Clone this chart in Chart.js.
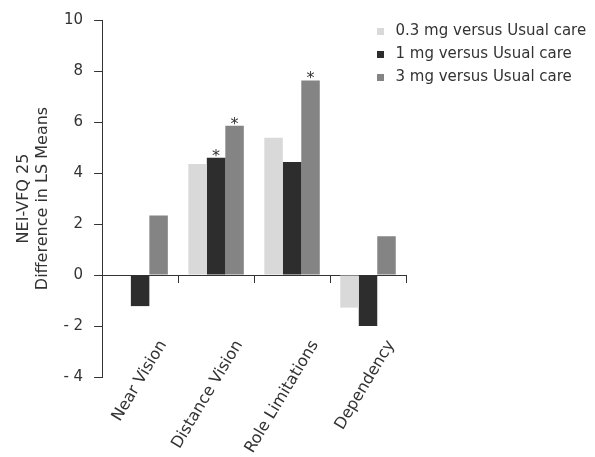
<!DOCTYPE html>
<html>
<head>
<meta charset="utf-8">
<script src="https://cdn.jsdelivr.net/npm/chart.js@4/dist/chart.umd.min.js"></script>
<style>
    html, body { margin: 0; padding: 0; background: #fff; }
    #wrap { width: 595px; height: 457px; }
</style>
</head>
<body>
<div id="wrap"><canvas id="nei"></canvas></div>
<script>
const categories = ["Near Vision", "Distance Vision", "Role Limitations", "Dependency"];
const seriesNames = ["0.3 mg versus Usual care", "1 mg versus Usual care", "3 mg versus Usual care"];
const dose03 = [0, 4.35, 5.38, -1.28];
const dose1 = [-1.22, 4.6, 4.43, -2.0];
const dose3 = [2.33, 5.85, 7.63, 1.52];
// * = significant difference, drawn above the bar
const sig03 = [false, false, false, false];
const sig1 = [false, true, false, false];
const sig3 = [false, true, true, false];
const yTicks = [-4, -2, 0, 2, 4, 6, 8, 10];

const FONT = "'DejaVu Sans', sans-serif";
const INK = "#333";

const asteriskPlugin = {
    id: "asterisks",
    afterDatasetsDraw(chart) {
        const ctx = chart.ctx;
        ctx.save();
        ctx.fillStyle = INK;
        ctx.font = "16px " + FONT;
        ctx.textAlign = "center";
        ctx.textBaseline = "alphabetic";
        chart.data.datasets.forEach((ds, i) => {
            const meta = chart.getDatasetMeta(i);
            ds.significant.forEach((s, j) => {
                if (!s) return;
                const bar = meta.data[j];
                ctx.fillText("*", bar.x, bar.y + 3);
            });
        });
        ctx.restore();
    },
};

// legend sits in the upper right, partly over the plot area
const legendPlacer = {
    id: "legendPlacer",
    afterLayout(chart) {
        const lg = chart.legend;
        const w = lg.width, h = lg.height;
        lg.left = 365;
        lg.top = 16;
        lg.right = lg.left + w;
        lg.bottom = lg.top + h;
    },
};

const ctx = document.getElementById("nei").getContext("2d");
new Chart(ctx, {
    type: "bar",
    data: {
        labels: categories,
        datasets: [
            { label: seriesNames[0], data: dose03, significant: sig03, backgroundColor: "#d9d9d9" },
            { label: seriesNames[1], data: dose1, significant: sig1, backgroundColor: "#2d2d2d" },
            { label: seriesNames[2], data: dose3, significant: sig3, backgroundColor: "#848484" },
        ],
    },
    options: {
        responsive: true,
        maintainAspectRatio: false,
        animation: false,
        categoryPercentage: 0.73,
        barPercentage: 1.0,
        layout: { padding: { left: 12, top: 17, right: 189, bottom: 80 } },
        plugins: {
            tooltip: { enabled: false },
            legend: {
                position: "chartArea",
                align: "start",
                labels: {
                    font: { family: FONT, size: 15 },
                    color: INK,
                    usePointStyle: true,
                    pointStyle: "rect",
                    boxHeight: 7,
                    padding: 8,
                },
            },
        },
        scales: {
            x: {
                position: { y: 0 },
                offset: true,
                grid: {
                    offset: true,
                    drawOnChartArea: false,
                    drawTicks: true,
                    tickLength: 7,
                    color: INK,
                },
                border: { display: true, color: INK, width: 1 },
                ticks: {
                    autoSkip: false,
                    minRotation: 59,
                    maxRotation: 59,
                    labelOffset: 23,
                    padding: 55,
                    color: INK,
                    font: { family: FONT, size: 16 },
                },
            },
            y: {
                min: -4,
                max: 10,
                afterBuildTicks(scale) {
                    scale.ticks = yTicks.map((v) => ({ value: v }));
                },
                grid: {
                    drawOnChartArea: false,
                    drawTicks: true,
                    tickLength: 8,
                    color: INK,
                },
                border: { display: true, color: INK, width: 1 },
                ticks: {
                    padding: 11,
                    color: INK,
                    font: { family: FONT, size: 15 },
                    callback: (v) => (v < 0 ? "- " + Math.abs(v) : String(v)),
                },
                title: {
                    display: true,
                    text: ["NEI-VFQ 25", "Difference in LS Means"],
                    color: INK,
                    font: { family: FONT, size: 16 },
                    padding: { top: 2, bottom: 0 },
                },
            },
        },
    },
    plugins: [asteriskPlugin, legendPlacer],
});
</script>
</body>
</html>
